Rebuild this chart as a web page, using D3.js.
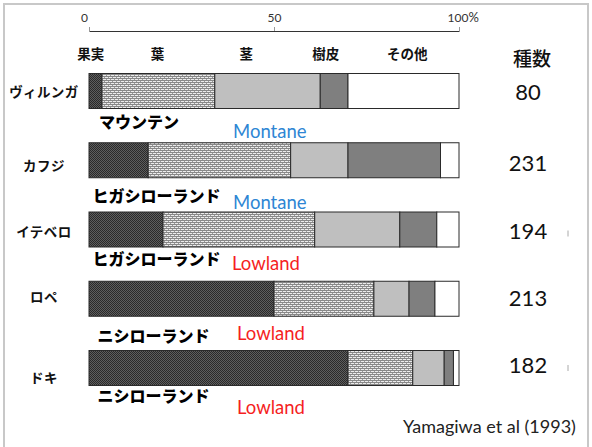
<!DOCTYPE html>
<html><head><meta charset="utf-8">
<script src="https://cdn.jsdelivr.net/npm/d3@7"></script>
<style>body{margin:0;background:#fff}svg{display:block}</style>
</head><body><svg id="c" width="592" height="447"></svg>
<script>
// ---------- data ----------
const sites = ["ヴィルンガ", "カフジ", "イテベロ", "ロペ", "ドキ"];
const habitatJa = ["マウンテン", "ヒガシローランド", "ヒガシローランド", "ニシローランド", "ニシローランド"];
const habitatEn = ["Montane", "Montane", "Lowland", "Lowland", "Lowland"];
const speciesCount = [80, 231, 194, 213, 182];
const categories = ["果実", "葉", "茎", "樹皮", "その他"];
const fruit = [3.5, 16, 20, 50, 70];
const leaf = [30.5, 38.5, 41, 27, 17.5];
const stem = [28.5, 15.5, 23, 9.5, 8.5];
const bark = [7.5, 25, 10, 7, 2.5];
const other = [30, 5, 6, 6.5, 1.5];
const axisTicks = [0, 50, 100];
const countHeader = "種数";
const sourceNote = "Yamagiwa et al (1993)";
const markedRows = ["イテベロ", "ドキ"];

// ---------- layout ----------
const W = 592, H = 447;
const barH = 35;
const headerPct = [0.5, 18.5, 42.5, 64, 86];
const siteDy = [0, 5, 1.5, -3, 9];
const jaDy = [30, 35, 28.5, 36, 27];
const jaX = [99, 92.5, 92.5, 97.5, 97.5];
const enDy = [40, 42, 33, 34, 39];
const enX = [233, 233, 232, 237, 237];
const countDy = [0, 2, 0.5, -1, -4];

const svg = d3.select("#c");
const defs = svg.append("defs");

// patterns
const pf = defs.append("pattern").attr("id", "pFruit").attr("patternUnits", "userSpaceOnUse")
  .attr("width", 2).attr("height", 2);
pf.append("rect").attr("width", 2).attr("height", 2).attr("fill", "#5e5e5e");
pf.append("rect").attr("width", 1).attr("height", 1).attr("fill", "#2a2a2a");
pf.append("rect").attr("x", 1).attr("y", 1).attr("width", 1).attr("height", 1).attr("fill", "#2a2a2a");

const pl = defs.append("pattern").attr("id", "pLeaf").attr("patternUnits", "userSpaceOnUse")
  .attr("width", 4).attr("height", 4);
pl.append("rect").attr("width", 4).attr("height", 4).attr("fill", "#ececec");
pl.append("rect").attr("x", 0).attr("y", 0).attr("width", 4).attr("height", 1).attr("fill", "#888");
pl.append("rect").attr("x", 0).attr("y", 2).attr("width", 4).attr("height", 1).attr("fill", "#888");
pl.append("rect").attr("x", 0).attr("y", 1).attr("width", 1).attr("height", 1).attr("fill", "#9a9a9a");
pl.append("rect").attr("x", 2).attr("y", 3).attr("width", 1).attr("height", 1).attr("fill", "#9a9a9a");

const fills = ["url(#pFruit)", "url(#pLeaf)", "#bfbfbf", "#7f7f7f", "#ffffff"];

// frame
svg.append("rect").attr("x", 4).attr("y", 4).attr("width", 584).attr("height", H + 10)
  .attr("fill", "none").attr("stroke", "#c8c8c8").attr("stroke-width", 2);

// scales
const x = d3.scaleLinear().domain([0, 100]).range([89, 459]);
const y = d3.scalePoint().domain(sites).range([91, 368]);

// axis
const axis = d3.axisTop(x).tickValues(axisTicks).tickSize(4).tickSizeOuter(0)
  .tickFormat(d => d);
const ag = svg.append("g").attr("transform", "translate(0,31)").call(axis);
ag.select(".domain").attr("stroke", "#333").attr("stroke-width", 1);
ag.selectAll(".tick line").attr("stroke", "#999");
ag.selectAll(".tick text").attr("font-family", "Lato, 'Liberation Sans', sans-serif")
  .attr("font-size", 12).attr("fill", "#333").attr("y", -9);
ag.selectAll(".tick").filter(d => d === 0).select("text").attr("dx", -5);
ag.selectAll(".tick").filter(d => d === 100).select("text")
  .text(null).attr("text-anchor", "start").attr("dx", -12)
  .call(t => { t.append("tspan").text("100"); t.append("tspan").attr("font-size", 13).text("%"); });

// stacked data
const series = [fruit, leaf, stem, bark, other];
const rows = sites.map((s, i) => {
  const r = { site: s };
  categories.forEach((c, k) => r[c] = series[k][i]);
  return r;
});
const stacked = d3.stack().keys(categories)(rows);

const layers = svg.append("g").selectAll("g").data(stacked).join("g")
  .attr("fill", (d, k) => fills[k]);
layers.selectAll("rect").data(d => d).join("rect")
  .attr("x", d => x(d[0]))
  .attr("width", d => x(d[1]) - x(d[0]))
  .attr("y", d => y(d.data.site) - barH / 2)
  .attr("height", barH)
  .attr("stroke", "#2a2a2a").attr("stroke-width", 1);

// category headers
svg.append("g").selectAll("text").data(categories).join("text")
  .attr("x", (d, k) => x(headerPct[k]))
  .attr("y", 53)
  .attr("text-anchor", "middle").attr("dominant-baseline", "central")
  .attr("font-family", "'Noto Sans CJK JP', sans-serif").attr("font-weight", 700)
  .attr("font-size", 13.5).attr("fill", "#111")
  .text(d => d);

// site labels
svg.append("g").selectAll("text").data(sites).join("text")
  .attr("x", 44).attr("y", (d, i) => y(d) + siteDy[i])
  .attr("text-anchor", "middle").attr("dominant-baseline", "central")
  .attr("font-family", "'Noto Sans CJK JP', sans-serif").attr("font-weight", 700)
  .attr("font-size", 13.5).attr("letter-spacing", 0.5).attr("fill", "#111")
  .text(d => d);

// habitat (Japanese)
svg.append("g").selectAll("text").data(habitatJa).join("text")
  .attr("x", (d, i) => jaX[i]).attr("y", (d, i) => y(sites[i]) + jaDy[i])
  .attr("dominant-baseline", "central")
  .attr("font-family", "'Noto Sans CJK JP', sans-serif").attr("font-weight", 900)
  .attr("font-size", 16).attr("fill", "#000")
  .text(d => d);

// habitat (English)
svg.append("g").selectAll("text").data(habitatEn).join("text")
  .attr("x", (d, i) => enX[i]).attr("y", (d, i) => y(sites[i]) + enDy[i])
  .attr("dominant-baseline", "central")
  .attr("font-family", "Lato, 'Liberation Sans', sans-serif")
  .attr("font-size", 18.5)
  .attr("fill", d => d === "Montane" ? "#2e86d4" : "#f51f1f")
  .text(d => d);

// species count
svg.append("text").attr("x", 532).attr("y", 57)
  .attr("text-anchor", "middle").attr("dominant-baseline", "central")
  .attr("font-family", "'Noto Sans CJK JP', sans-serif").attr("font-weight", 500)
  .attr("font-size", 19).attr("fill", "#111").text(countHeader);

svg.append("g").selectAll("text").data(speciesCount).join("text")
  .attr("x", 528).attr("y", (d, i) => y(sites[i]) + countDy[i])
  .attr("text-anchor", "middle").attr("dominant-baseline", "central")
  .attr("font-family", "Lato, 'Liberation Sans', sans-serif")
  .attr("font-size", 22).attr("fill", "#111")
  .text(d => d);

// small marks
svg.append("g").selectAll("line").data(markedRows).join("line")
  .attr("x1", 568).attr("x2", 568)
  .attr("y1", d => y(d) + (d === "ドキ" ? -3 : 1))
  .attr("y2", d => y(d) + (d === "ドキ" ? 3 : 7))
  .attr("stroke", "#aaa").attr("stroke-width", 1);

// source
svg.append("text").attr("x", 403).attr("y", 426)
  .attr("dominant-baseline", "central")
  .attr("font-family", "Lato, 'Liberation Sans', sans-serif")
  .attr("font-size", 18).attr("fill", "#222").text(sourceNote);
</script>
</body></html>
